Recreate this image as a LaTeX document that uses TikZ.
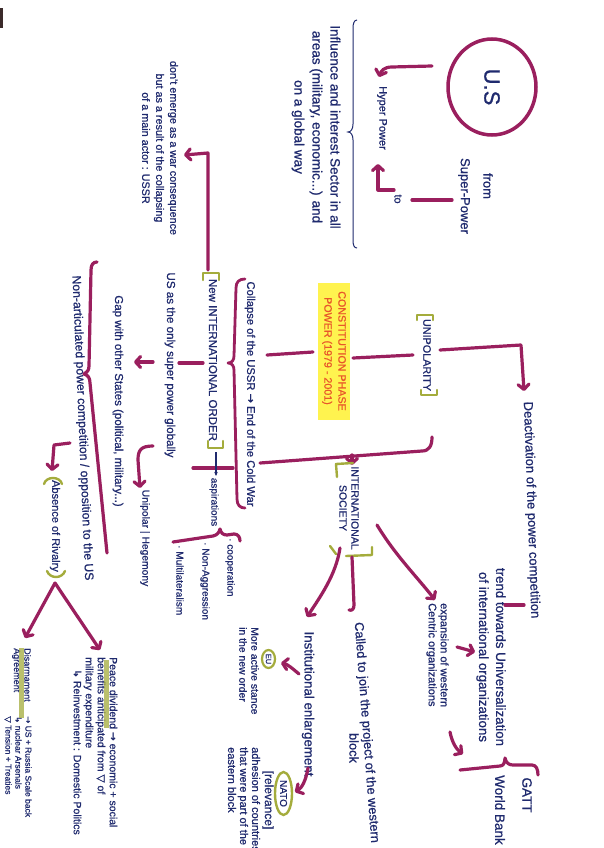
\documentclass[tikz,border=0pt]{standalone}
\usepackage{fontspec}
\setmainfont{Liberation Sans}[FakeBold=0.8]
\newfontfamily\symf{DejaVu Sans}[FakeBold=0.8]
\usetikzlibrary{arrows.meta,shapes.geometric}
\definecolor{mag}{HTML}{9A1F5E}
\definecolor{oli}{HTML}{A4AC3C}
\definecolor{ink}{HTML}{1F2A6E}
\definecolor{hl}{HTML}{FFF34F}
\definecolor{org}{HTML}{E8562A}
\definecolor{scan}{HTML}{3B2A2A}
\begin{document}
\begin{tikzpicture}[x=1pt,y=-1pt,
  conn/.style={draw=mag,line width=3.2pt,line cap=round,line join=round},
  arr/.style={conn,-{Straight Barb[length=5pt,width=11pt,round]}},
  obr/.style={draw=oli,line width=2.4pt,line cap=round,line join=round},
  hbar/.style={draw=oli,line width=5pt,opacity=0.75},
  txt/.style={text=ink,rotate=-90,inner sep=0pt},
  fs/.style 2 args={font=\fontsize{#1}{#2}\selectfont}]
\useasboundingbox (0,0) rectangle (604,848);
\fill[white] (0,0) rectangle (604,848);
\fill[scan] (0,8) rectangle (3,28);

% ---------- top: U.S ----------
\node[ellipse,draw=mag,line width=3.5pt,rotate=-90,minimum width=96pt,minimum height=88pt,text=ink,fs={22}{24}] (us) at (492,87) {U.S};
\node[txt,fs={11}{13}] (hyper) at (382,118) {Hyper Power};
\node[txt,fs={13}{15}] (from) at (488,186) {from};
\node[txt,fs={13}{15}] (super) at (464,196) {Super-Power};
\node[txt,fs={11}{13}] (to) at (398,199) {to};
\node[txt,fs={13.5}{18},align=center] (infl) at (316,127) {Influence and interest Sector in all\\areas (military, economic...) and\\on a global way};
\node[txt,fs={10.8}{14},align=center] (emerge) at (160,148) {don't emerge as a war consequence\\but as a result of the collapsing\\of a main actor : USSR};

\coordinate (p1s) at (432,66); \coordinate (p1e) at (379,77);
\draw[arr] (p1s) -- (392,67) .. controls (384,67) and (381,71) .. (p1e);
\coordinate (p2s) at (452,200); \coordinate (p2e) at (412,200);
\draw[conn] (p2s) -- (p2e);
\coordinate (p3s) at (394,190); \coordinate (p3e) at (378,164);
\draw[arr] (p3s) -- (378,190) -- (p3e);
\coordinate (b1s) at (357,20); \coordinate (b1e) at (357,248);
\draw[ink,line width=1pt] (b1s) .. controls (354,20) and (353,24) .. (353,28) -- (353,124) .. controls (353,129) and (351,132) .. (348,132) .. controls (351,132) and (353,135) .. (353,140) -- (353,240) .. controls (353,245) and (354,248) .. (b1e);

% ---------- centre ----------
\node[rotate=-90,fill=hl,minimum width=137pt,minimum height=32pt,inner sep=0pt,text=org,align=center,fs={10.7}{14}] (phase) at (334,351) {CONSTITUTION PHASE\\POWER (1979 - 2001)};
\node[txt,fs={10.8}{13}] (unip) at (427,355) {UNIPOLARITY};
\node[txt,rotate=2,fs={13}{15}] (deact) at (531,510) {Deactivation of the power competition};
\node[txt,fs={11.2}{14}] (collapse) at (250,394) {Collapse of the USSR {\symf →} End of the Cold War};
\node[txt,fs={11.5}{14}] (neworder) at (213,360) {New INTERNATIONAL ORDER};
\node[txt,fs={10}{12}] (aspir) at (214,502) {aspirations};
\node[txt,fs={11.6}{14}] (usonly) at (170,365) {US as the only super power globally};
\node[txt,fs={11.5}{14}] (gap) at (118,401) {Gap with other States (political, military...)};
\node[txt,fs={10.3}{12}] (unipolar) at (145,538) {Unipolar | Hegemony};
\node[txt,fs={10}{12},anchor=west] (coop) at (230,538) {· cooperation};
\node[txt,fs={10}{12},anchor=west] (nonagg) at (205,542) {· Non-Aggression};
\node[txt,fs={10}{12},anchor=west] (multi) at (180,545) {· Multilateralism};
\node[txt,rotate=2.4,fs={12.2}{14}] (nonart) at (82,428) {Non-articulated power competition / opposition to the US};
\node[txt,fs={11}{13}] (absence) at (55,526) {Absence of Rivalry};

\coordinate (p4s) at (208,270); \coordinate (p4e) at (184,155);
\draw[arr] (p4s) -- (208,153) -- (p4e);
\coordinate (p5s) at (313,352); \coordinate (p5e) at (267,355);
\draw[conn] (p5s) -- (p5e);
\coordinate (p6s) at (353,358); \coordinate (p6e) at (413,355);
\draw[conn] (p6s) -- (p6e);
\coordinate (p7s) at (440,350); \coordinate (p7e) at (524,391);
\draw[arr] (p7s) -- (521,345) -- (p7e);
\coordinate (p8s) at (432,437); \coordinate (p8e) at (260,463);
\draw[conn] (p8s) .. controls (432,446) and (429,451) .. (422,451) -- (p8e);
\coordinate (p9s) at (352,455); \coordinate (p9e) at (352,465);
\draw[arr] (p9s) -- (p9e);
\coordinate (b2s) at (245,279); \coordinate (b2e) at (245,508);
\draw[conn,line width=2.8pt] (b2s) .. controls (239,279) and (236,282) .. (236,288) -- (234,356) .. controls (234,360) and (232,363) .. (228,363) .. controls (232,363) and (234,366) .. (234,370) -- (237,499) .. controls (237,505) and (240,508) .. (b2e);
\coordinate (x1) at (193,468); \coordinate (x2) at (233,468);
\draw[conn] (x1) -- (x2);
\coordinate (a1s) at (216,452); \coordinate (a1e) at (216,476);
\draw[ink,line width=1.2pt,-{Stealth[length=4pt,width=3.5pt]}] (a1s) -- (a1e);
\coordinate (g1s) at (203,363); \coordinate (g1e) at (179,363);
\draw[conn] (g1s) -- (g1e);
\coordinate (g2s) at (153,362); \coordinate (g2e) at (134,362);
\draw[arr] (g2s) -- (g2e);
\coordinate (u1s) at (153,446); \coordinate (u1e) at (140,488);
\draw[arr] (u1s) .. controls (141,446) and (138,450) .. (138,460) -- (u1e);
\coordinate (b3s) at (173,542); \coordinate (b3e) at (240,541);
\draw[conn] (b3s) -- (213,536) .. controls (217,535) and (219,533) .. (220,529) .. controls (221,533) and (223,535) .. (227,535) -- (234,534) .. controls (238,534) and (240,537) .. (b3e);
\coordinate (b4s) at (97,262); \coordinate (b4e) at (107,553);
\draw[conn] (b4s) .. controls (93,262) and (91,265) .. (91,270) -- (89,366) .. controls (89,370) and (87,373) .. (84,374) .. controls (88,375) and (90,378) .. (90,383) -- (b4e);
\coordinate (r1s) at (70,443); \coordinate (r1e) at (52,471);
\draw[arr] (r1s) -- (54,445) -- (r1e);

% olive brackets
\draw[obr] (417,320) -- (417,315) -- (433,315) -- (433,320);
\draw[obr] (421,390) -- (421,395) -- (437,395) -- (437,390);
\draw[obr] (203,280) -- (203,273) -- (219,273) -- (219,280);
\draw[obr] (208,441) -- (208,448) -- (223,448) -- (223,441);
\draw[obr] (337,477) -- (336,464) -- (353,463);
\draw[obr] (330,546) -- (336,554);
\draw[obr] (346,556) -- (372,555) -- (372,547);
\draw[obr] (44,484) .. controls (46,476) and (60,476) .. (62,484);
\draw[obr] (47,571) .. controls (50,579) and (62,579) .. (65,571);

% ---------- lower part ----------
\node[txt,fs={10.5}{12},align=center] (intsoc) at (349,508) {INTERNATIONAL\\SOCIETY};
\node[txt,fs={11}{12},align=left,anchor=west] (expansion) at (437.5,603) {expansion of western\\Centric organizations};
\node[txt,fs={13.3}{17},align=center] (trend) at (491,657) {trend towards Universalization\\of international organizations};
\node[txt,fs={13.5}{15}] (gatt) at (527,795) {GATT};
\node[txt,fs={13.5}{15}] (world) at (500,810) {World Bank};
\node[txt,rotate=4.3,fs={12.8}{14},anchor=west] (called) at (358,622) {Called to join the project of the western};
\node[txt,fs={12.8}{14}] (block) at (354,748) {block};
\node[txt,fs={13.3}{15}] (instit) at (308,704) {Institutional enlargement};
\node[ellipse,draw=oli,line width=2.2pt,rotate=-90,minimum width=18pt,minimum height=13pt,inner sep=0pt,text=ink,fs={7.5}{8}] (eu) at (268.5,659) {EU};
\node[ellipse,draw=oli,line width=2.4pt,rotate=-90,minimum width=43pt,minimum height=17pt,inner sep=0pt,text=ink,fs={10}{11}] (nato) at (283.5,793.5) {NATO};
\node[txt,fs={10.4}{12},align=left,anchor=west] (moreactive) at (249,627) {More active stance\\in the new order};
\node[txt,fs={12}{13}] (relevance) at (268,800) {[relevance]};
\node[txt,fs={11}{12},align=left,anchor=west] (adhesion) at (244,747) {adhesion of countries\\that were part of the\\eastern block};
\node[txt,fs={9}{10.5},align=left,anchor=west] (disarm) at (21.5,648) {Disarmament\\Agreement};
\node[txt,fs={8.5}{10},align=left,anchor=west] (usrussia) at (18,716) {{\symf →} US + Russia Scale back\\{\symf ↳} nuclear Arsenals\\{\symf ▽} Tension + Treaties};
\node[txt,fs={10.5}{12},align=left,anchor=west] (peace) at (95.5,657) {Peace dividend {\symf →} economic + social\\benefits anticipated from {\symf ▽} of\\military expenditure\\\hspace*{12pt}{\symf ↳} Reinvestment : Domestic Politics};

\coordinate (q1s) at (340,548); \coordinate (q1e) at (307,617);
\draw[arr] (q1s) .. controls (336,575) and (320,597) .. (q1e);
\coordinate (q2s) at (352,557); \coordinate (q2e) at (349,610);
\draw[conn] (q2s) -- (354,605) .. controls (354,609) and (352,611) .. (q2e);
\coordinate (q3s) at (377,525); \coordinate (q3e) at (435,600);
\draw[arr] (q3s) .. controls (395,555) and (418,578) .. (q3e);
\coordinate (q4s) at (505,605); \coordinate (q4e) at (524,605);
\draw[conn] (q4s) -- (q4e);
\coordinate (q5s) at (457,647); \coordinate (q5e) at (475,652);
\draw[arr] (q5s) -- (q5e);
\coordinate (q6s) at (450,732); \coordinate (q6e) at (463,754);
\draw[arr] (q6s) .. controls (452,742) and (456,749) .. (q6e);
\coordinate (b5s) at (460,770); \coordinate (b5e) at (538,775);
\draw[conn] (b5s) -- (500,766) .. controls (503,766) and (505,763) .. (505,758) .. controls (506,763) and (509,765) .. (513,765) -- (532,765) .. controls (536,765) and (538,769) .. (b5e);
\coordinate (q7s) at (299,674); \coordinate (q7e) at (281,663);
\draw[arr] (q7s) .. controls (292,668) and (287,664) .. (q7e);
\coordinate (q8s) at (308,768); \coordinate (q8e) at (295,792);
\draw[arr] (q8s) .. controls (306,780) and (302,788) .. (q8e);
\coordinate (ab) at (55,583); \coordinate (ad) at (25,638); \coordinate (ap) at (100,650);
\draw[arr] (ab) -- (ad);
\draw[arr] (ab) -- (ap);

% highlighter bars
\draw[hbar] (21,648) -- (21,718);
\draw[hbar] (106,660) -- (106,728);
\end{tikzpicture}
\end{document}
